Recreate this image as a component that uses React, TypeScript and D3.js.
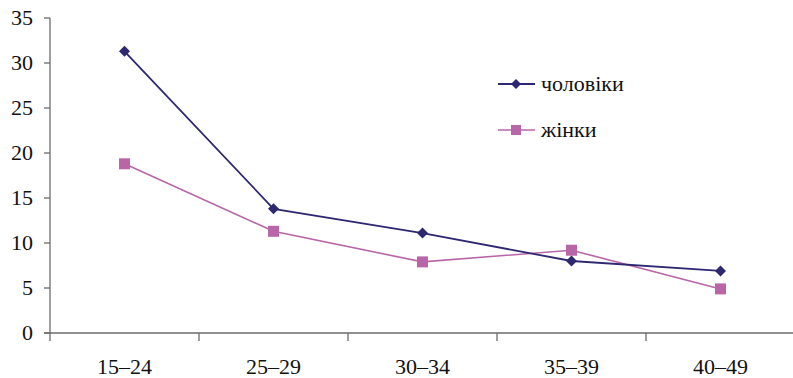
import React from "react";
import * as d3 from "d3";

const categories = ["15–24", "25–29", "30–34", "35–39", "40–49"];
const men = [31.3, 13.8, 11.1, 8.0, 6.9];
const women = [18.8, 11.3, 7.9, 9.2, 4.9];
const yTicks = [0, 5, 10, 15, 20, 25, 30, 35];
const seriesNames = ["чоловіки", "жінки"];

const W = 793, H = 378;
const left = 50, right = 795, top = 18, bottom = 333;
const MEN_C = "#2E2870";
const WOMEN_C = "#B866A8";
const txt: React.CSSProperties = { fontFamily: '"Liberation Serif"', fontSize: 22 };

export default function App() {
  const x = d3.scaleBand<string>().domain(categories).range([left, right]).paddingInner(0).paddingOuter(0);
  const y = d3.scaleLinear().domain([0, 35]).range([bottom, top]);
  const cx = (c: string) => (x(c) as number) + x.bandwidth() / 2;
  const line = d3.line<number>().x((_, i) => cx(categories[i])).y((d) => y(d));
  const diamond = (px: number, py: number, r: number) =>
    `M${px},${py - r}L${px + r},${py}L${px},${py + r}L${px - r},${py}Z`;
  const bounds = categories.map((c) => x(c) as number).concat([right]);

  return (
    <svg width={W} height={H} fontFamily="Liberation Serif" style={{ position: "absolute", left: 0, top: 0, background: "#fff" }}>
      <line x1={left} y1={top} x2={left} y2={bottom} stroke="#6b6b6b" strokeWidth={1.3} />
      <line x1={left - 6} y1={bottom} x2={right} y2={bottom} stroke="#6b6b6b" strokeWidth={1.3} />
      {yTicks.map((t) => (
        <g key={t}>
          <line x1={left - 6} x2={left} y1={y(t)} y2={y(t)} stroke="#6b6b6b" strokeWidth={1.3} />
          <text x={left - 17} y={y(t)} dy="0.33em" textAnchor="end" style={txt} fill="#111">
            {t}
          </text>
        </g>
      ))}
      {bounds.map((b, i) => (
        <line key={i} x1={b} x2={b} y1={bottom} y2={bottom + 8} stroke="#6b6b6b" strokeWidth={1.3} />
      ))}
      {categories.map((c) => (
        <text key={c} x={cx(c)} y={374} textAnchor="middle" style={txt} fill="#111">
          {c}
        </text>
      ))}
      <path d={line(women) || ""} fill="none" stroke={WOMEN_C} strokeWidth={1.6} />
      <path d={line(men) || ""} fill="none" stroke={MEN_C} strokeWidth={1.8} />
      {women.map((v, i) => (
        <rect key={"w" + i} x={cx(categories[i]) - 5.5} y={y(v) - 5.5} width={11} height={11} fill={WOMEN_C} />
      ))}
      {men.map((v, i) => (
        <path key={"m" + i} d={diamond(cx(categories[i]), y(v), 5.5)} fill={MEN_C} />
      ))}
      <g>
        <line x1={498} x2={535} y1={84} y2={84} stroke={MEN_C} strokeWidth={1.8} />
        <path d={diamond(516, 84, 5)} fill={MEN_C} />
        <text x={541} y={84} dy="0.32em" style={txt} fill="#111">{seriesNames[0]}</text>
        <line x1={498} x2={535} y1={130} y2={130} stroke={WOMEN_C} strokeWidth={1.6} />
        <rect x={511} y={125} width={10} height={10} fill={WOMEN_C} />
        <text x={541} y={130} dy="0.32em" style={txt} fill="#111">{seriesNames[1]}</text>
      </g>
    </svg>
  );
}
